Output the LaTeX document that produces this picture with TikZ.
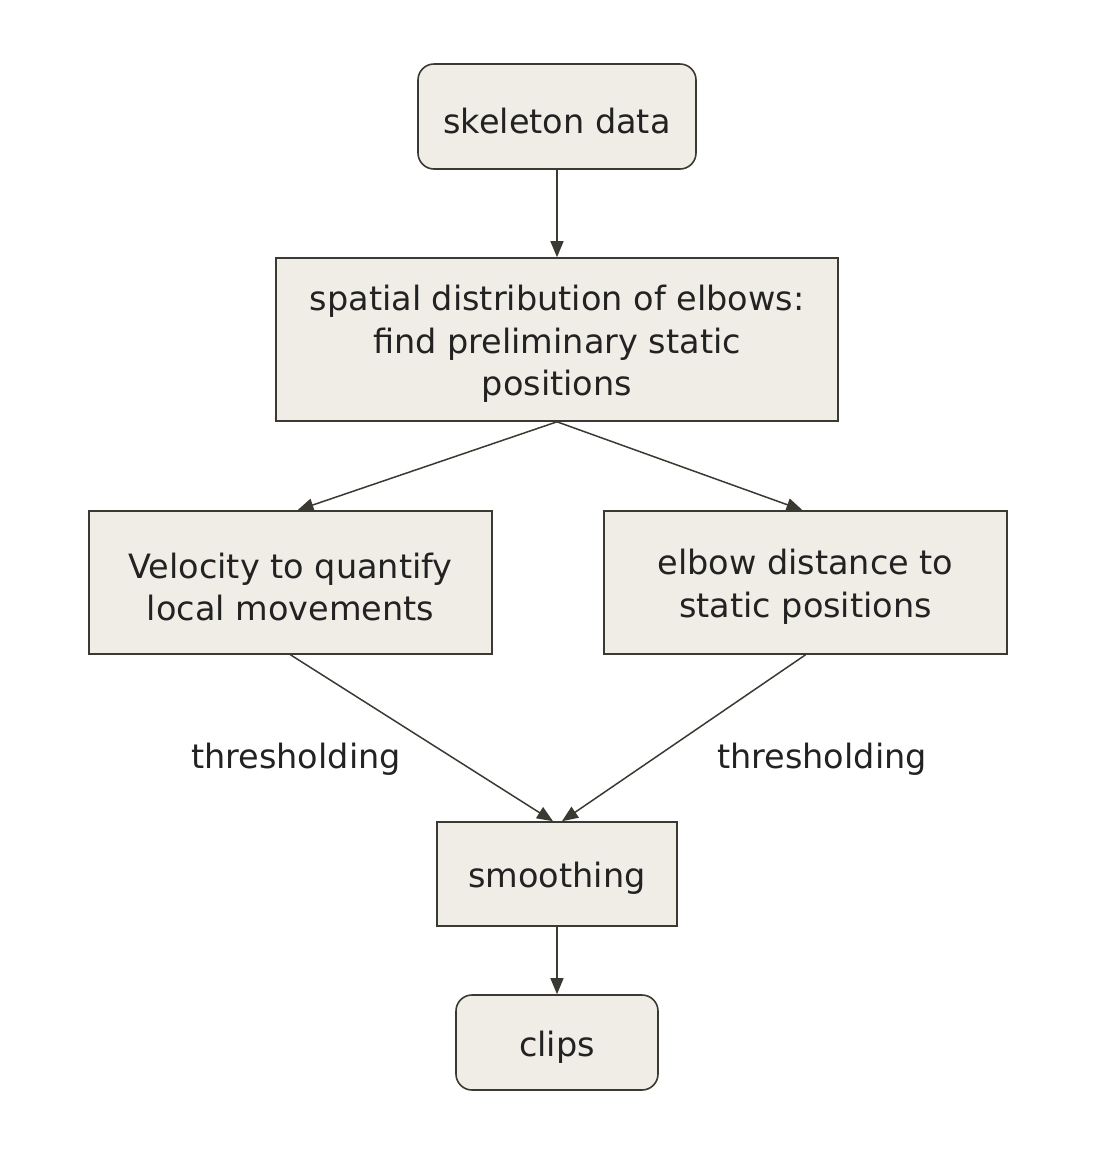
\documentclass[tikz,border=0pt]{standalone}
\usepackage{fontspec}
\setmainfont{DejaVu Sans}
\usetikzlibrary{arrows.meta}
\definecolor{boxfill}{HTML}{EFEDE5}
\definecolor{boxline}{HTML}{3A3A32}
\definecolor{txt}{HTML}{222222}
\newcommand\lowstrut{\rule{0pt}{34pt}}
\begin{document}
\begin{tikzpicture}[x=1pt,y=-1pt,
  box/.style={draw=boxline,fill=boxfill,line width=1.6pt,text=txt,inner sep=0pt,
    font=\fontsize{33.5}{42.5}\selectfont,align=center},
  rbox/.style={box,rounded corners=16pt},
  lbl/.style={text=txt,font=\fontsize{33.5}{42.5}\selectfont,inner sep=0pt},
  arr/.style={draw=boxline,line width=1.5pt,-{Triangle[length=16pt,width=13pt]}}]
\useasboundingbox (0,0) rectangle (1100,1176);
\node[rbox,minimum width=278pt,minimum height=105pt] (sk) at (557,116.5) {\lowstrut skeleton data};
\node[box,minimum width=562pt,minimum height=163pt] (sp) at (557,339.5) {\lowstrut spatial distribution of elbows:\\find preliminary static\\positions};
\node[box,minimum width=403pt,minimum height=143pt] (ve) at (290.5,582.5) {\lowstrut Velocity to quantify\\local movements};
\node[box,minimum width=403pt,minimum height=143pt] (el) at (805.5,582.5) {\lowstrut elbow distance to\\static positions};
\node[box,minimum width=240pt,minimum height=104pt] (sm) at (557,874) {\lowstrut smoothing};
\node[rbox,minimum width=202pt,minimum height=95pt] (cl) at (557,1042.5) {\lowstrut clips};
\node[lbl] (t1) at (296,759) {thresholding};
\node[lbl] (t2) at (822,759) {thresholding};
\draw[arr] (sk.south) -- (sp.north);
\draw[arr] (sp.south) -- ([xshift=7pt]ve.north);
\draw[arr] (sp.south) -- ([xshift=-3pt]el.north);
\draw[arr] (ve.south) -- ([xshift=-4pt]sm.north);
\draw[arr] (el.south) -- ([xshift=5pt]sm.north);
\draw[arr] (sm.south) -- (cl.north);
\end{tikzpicture}
\end{document}
